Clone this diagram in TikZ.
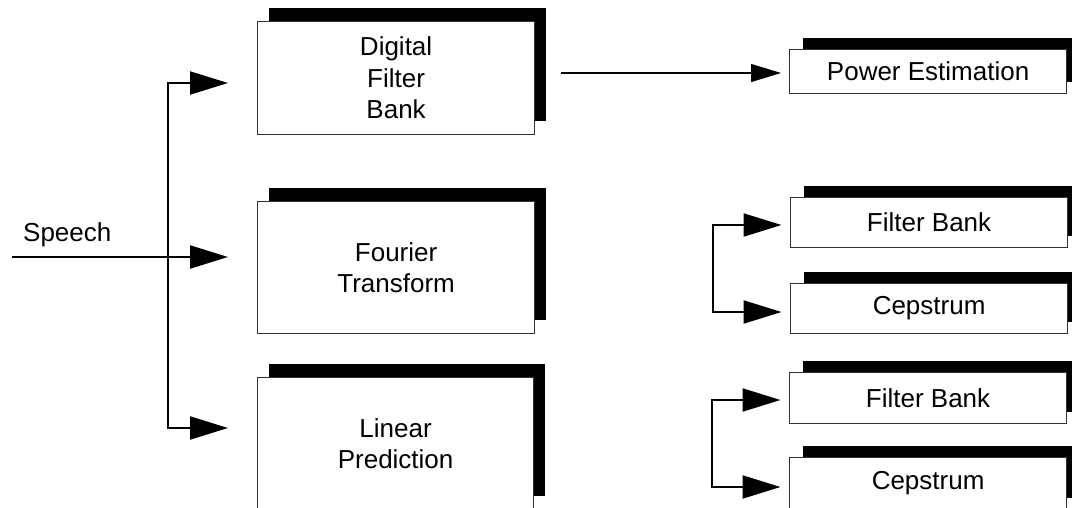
\documentclass[tikz,border=0pt]{standalone}
\usepackage{fontspec}
\setmainfont{Liberation Sans}
\usetikzlibrary{arrows.meta,shadows}

\begin{document}
\begin{tikzpicture}[x=1pt,y=-1pt,
  lbl/.style={font=\fontsize{26}{31.5}\selectfont, align=center},
  stagebase/.style={lbl, draw=black!80, line width=1.2pt, fill=white,
    inner sep=0pt, anchor=north west},
  bigstage/.style={stagebase,
    general shadow={fill=black, shadow xshift=11.5pt, shadow yshift=13.5pt}},
  smallstage/.style={stagebase,
    general shadow={fill=black, shadow xshift=13.5pt, shadow yshift=11.5pt}},
  flow/.style={line width=2.2pt, -{Triangle[length=38pt,width=23pt]}},
  thinflow/.style={line width=1.3pt, -{Triangle[length=30pt,width=18pt]}},
]
\useasboundingbox (0,0) rectangle (1072,508);
\clip (0,0) rectangle (1072,508);

% analysis front-ends
\node[bigstage, minimum width=277pt, minimum height=113pt] (dfb) at (257,21)
  {Digital\\Filter\\Bank};
\node[bigstage, minimum width=277pt, minimum height=132pt] (ft) at (257,201)
  {Fourier\\Transform};
\node[bigstage, minimum width=276pt, minimum height=132pt] (lp) at (257,377)
  {Linear\\Prediction};

% derived parameters
\node[smallstage, minimum width=277pt, minimum height=44pt] (pe) at (789,49)
  {Power Estimation};
\node[smallstage, minimum width=277pt, minimum height=50pt] (fb1) at (790,197)
  {Filter Bank};
\node[smallstage, minimum width=277pt, minimum height=50pt] (cp1) at (790,283)
  {Cepstrum};
\node[smallstage, minimum width=277pt, minimum height=51pt] (fb2) at (789,372)
  {Filter Bank};
\node[smallstage, minimum width=277pt, minimum height=52pt] (cp2) at (789,457)
  {Cepstrum};

% input signal
\coordinate (src) at (12,257);
\node[lbl, anchor=base west, inner sep=0pt] (speechlbl) at (23,241) {Speech};
\draw[flow, shorten >=29pt] (src) -- (src -| ft.west);

% distribution to the front-ends
\coordinate (jt) at (168,83);
\coordinate (jb) at (168,428);
\draw[flow, shorten >=29pt] (jb) -- (jt) -- (jt -| dfb.west);
\draw[flow, shorten >=29pt] (jt) -- (jb) -- (jb -| lp.west);

% filter bank output to power estimation
\coordinate (pstart) at (561,73);
\draw[thinflow, shorten >=8pt] (pstart) -- (pstart -| pe.west);

% parameter brackets
\coordinate (b1t) at (713,225);
\coordinate (b1b) at (713,312);
\draw[flow, shorten >=8.5pt] (b1b) -- (b1t) -- (b1t -| fb1.west);
\draw[flow, shorten >=8.5pt] (b1t) -- (b1b) -- (b1b -| cp1.west);

\coordinate (b2t) at (712,400);
\coordinate (b2b) at (712,487);
\draw[flow, shorten >=8.5pt] (b2b) -- (b2t) -- (b2t -| fb2.west);
\draw[flow, shorten >=8.5pt] (b2t) -- (b2b) -- (b2b -| cp2.west);
\end{tikzpicture}
\end{document}
